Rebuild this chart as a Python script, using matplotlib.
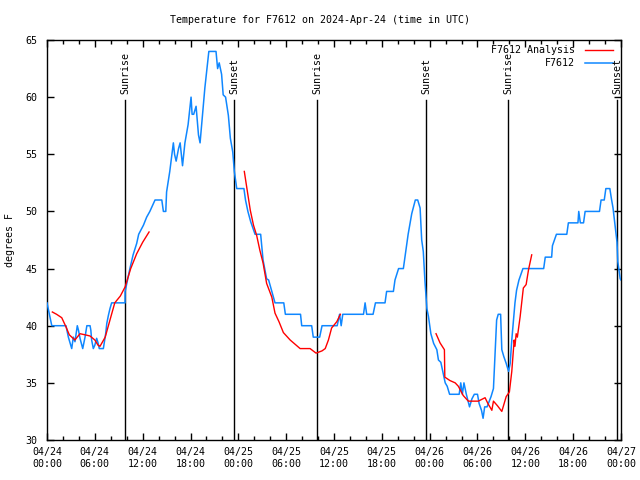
"""Station temperature vs analysis, gnuplot-style, hours from 2024-04-24 00:00 UTC."""

import matplotlib
matplotlib.use("Agg")
import matplotlib.pyplot as plt
import numpy as np

# observed station temperature (hours since 04/24 00:00 UTC, deg F)
obs_hours = [
    0.0, 0.15, 0.6, 2.38, 2.5, 2.68, 2.89, 3.1, 3.3, 3.51, 3.8, 3.95, 4.14, 4.48,
    4.77, 5.0, 5.4, 5.5, 5.6, 5.81, 6.0, 6.23, 6.4, 6.56, 7.07, 7.36, 7.5, 7.7,
    7.9, 8.11, 9.79, 9.8, 10.1, 10.4, 10.8, 11.25, 11.5, 12.1, 12.5, 12.9, 13.55,
    14.4, 14.6, 14.9, 15.0, 15.4, 15.85, 16.0, 16.2, 16.5, 16.7, 17.0, 17.3, 17.7,
    18.07, 18.2, 18.4, 18.7, 19.0, 19.2, 19.4, 19.8, 20.25, 20.3, 21.2, 21.4,
    21.6, 21.9, 22.1, 22.4, 22.75, 23.0, 23.3, 23.5, 23.8, 24.7, 24.9, 25.2,
    25.55, 26.1, 26.8, 27.1, 27.55, 27.8, 28.2, 28.6, 29.7, 29.9, 31.8, 31.95,
    33.2, 33.4, 34.2, 34.5, 36.4, 36.7, 36.9, 37.1, 39.7, 39.9, 40.1, 40.9, 41.2,
    42.4, 42.6, 43.45, 43.65, 44.1, 44.7, 44.9, 45.3, 45.75, 46.2, 46.5, 46.8,
    47.0, 47.2, 47.4, 47.55, 47.65, 47.85, 48.15, 48.5, 48.9, 49.1, 49.4, 49.65,
    49.95, 50.2, 50.5, 51.7, 51.9, 52.1, 52.3, 52.6, 53.0, 53.3, 53.6, 54.0,
    54.2, 54.5, 54.7, 54.9, 55.2, 55.7, 56.0, 56.2, 56.4, 56.6, 56.9, 57.05,
    57.3, 57.6, 57.9, 58.1, 58.3, 58.5, 58.7, 58.9, 59.2, 59.7, 62.3, 62.5, 63.3,
    63.4, 63.9, 65.2, 65.4, 66.6, 66.7, 66.9, 67.3, 67.5, 69.3, 69.5, 69.9, 70.1,
    70.6, 70.8, 71.0, 71.3, 71.5, 71.6, 71.9, 72.0,
]
obs_temp = [
    42, 41.5, 40, 40, 39.6, 39, 38.5, 38, 39, 38.6, 40, 39.6, 38.9, 38,
    39, 40, 40, 39.6, 38.75, 38, 38.3, 38.9, 38.5, 38, 38, 39.3, 40.2, 40.9,
    41.5, 42, 42, 43, 44, 45, 46.2, 47.2, 48, 48.8, 49.5, 50, 51,
    51, 50, 50, 51.7, 53.5, 56, 55, 54.4, 55.5, 56, 54, 56, 57.6,
    60, 58.5, 58.5, 59.2, 56.7, 56, 57.6, 60.8, 63.7, 64, 64, 62.5,
    63, 62, 60.2, 60, 58.4, 56.4, 55.2, 53.5, 52, 52, 51, 50,
    49.1, 48, 48, 45.75, 44.1, 44, 43, 42, 42, 41, 41, 40,
    40, 39, 39, 40, 40, 41, 40, 41, 41, 42, 41, 41, 42,
    42, 43, 43, 44, 45, 45, 46, 48, 49.8, 51, 51, 50.3,
    47.5, 46.5, 44, 42.5, 41.5, 40.8, 39.3, 38.45, 37.9, 37, 36.8, 36,
    35, 34.7, 34, 34, 35, 34, 35, 34, 32.9, 33.6, 34, 34,
    33.2, 32.6, 31.9, 32.9, 32.9, 33.8, 34.5, 37.6, 40.5, 41, 41, 37.9,
    37.3, 36.7, 36, 36.7, 38.75, 40.35, 42, 43.1, 44, 45, 45, 46, 46,
    47, 48, 48, 49, 49, 50, 49, 49, 50, 50, 51, 51, 52,
    52, 51.1, 50.3, 48.5, 47.3, 45.6, 44.1, 44,
]

# analysis temperature, three separate runs (NaN splits them)
ana_hours = [
    0.67, 1.2, 1.85, 2.38, 2.8, 3.5, 4.14, 4.8, 5.4, 6.0, 6.4, 6.65, 7.3, 7.9,
    8.5, 9.2, 9.8, 10.5, 11.25, 12.0, 12.8, np.nan,
    24.75, 25.1, 25.5, 25.9, 26.3, 26.7, 27.1, 27.55, 28.2, 28.6, 29.1, 29.65,
    30.5, 31.75, 33.0, 33.75, 34.5, 34.9, 35.3, 35.7, 36.35, 36.8, np.nan,
    48.8, 49.3, 49.85, 49.9, 50.55, 51.2, 51.6, 52.2, 52.85, 54.1, 54.95, 55.3,
    55.8, 56.0, 56.5, 57.05, 57.6, 58.0, 58.3, 58.6, 58.7, 58.85, 59.0, 59.35,
    59.75, 60.1, 60.4, 60.8,
]
ana_temp = [
    41.2, 41.0, 40.7, 39.9, 39.2, 38.75, 39.3, 39.2, 39.1, 38.75, 38.3, 38.2, 39, 40.5,
    42, 42.6, 43.4, 45, 46.3, 47.3, 48.2, np.nan,
    53.5, 51.9, 50.1, 48.8, 47.9, 46.6, 45.5, 43.7, 42.5, 41.1, 40.35, 39.4,
    38.75, 38, 38, 37.6, 37.8, 38, 38.75, 39.8, 40.35, 41, np.nan,
    39.3, 38.5, 37.9, 35.5, 35.2, 35, 34.7, 33.9, 33.4, 33.4, 33.7, 33.2,
    32.6, 33.4, 33, 32.5, 33.8, 34.2, 36, 38.75, 38.2, 39.3, 39, 40.8,
    43.3, 43.6, 44.9, 46.2,
]

sun_hours = [9.79, 23.46, 33.88, 47.55, 57.84, 71.52]
sun_labels = ["Sunrise", "Sunset", "Sunrise", "Sunset", "Sunrise", "Sunset"]

tick_hours = list(range(0, 73, 6))
tick_labels = [
    "04/24\n00:00", "04/24\n06:00", "04/24\n12:00", "04/24\n18:00",
    "04/25\n00:00", "04/25\n06:00", "04/25\n12:00", "04/25\n18:00",
    "04/26\n00:00", "04/26\n06:00", "04/26\n12:00", "04/26\n18:00",
    "04/27\n00:00",
]

BLUE = "#0f87ff"
FONT = "DejaVu Sans Mono"
FS = 7.2

plt.rcParams["font.family"] = FONT
plt.rcParams["font.size"] = FS

fig = plt.figure(figsize=(6.4, 4.8), dpi=100)
ax = fig.add_axes([47 / 640, 40 / 480, 574 / 640, 400 / 480])

ax.plot(obs_hours, obs_temp, color=BLUE, lw=1.1, zorder=3)
ax.plot(ana_hours, ana_temp, color="red", lw=1.0, zorder=4)

for h, lab in zip(sun_hours, sun_labels):
    ax.plot([h, h], [30, 59.75], color="black", lw=1.0, zorder=2)
    ax.text(h, 60.3, lab, rotation=90, ha="center", va="bottom", fontsize=FS, clip_on=False)

ax.set_xlim(0, 72)
ax.set_ylim(30, 65)
ax.set_xticks(tick_hours)
ax.set_xticklabels(tick_labels)
ax.set_xticks(np.arange(0, 73, 2), minor=True)
ax.set_yticks(range(30, 66, 5))
ax.tick_params(which="both", direction="in", top=True, right=True, width=1, colors="black")
ax.tick_params(which="major", length=5)
ax.tick_params(which="minor", length=3)
ax.tick_params(axis="y", pad=7)
ax.tick_params(axis="x", pad=5)
for sp in ax.spines.values():
    sp.set_linewidth(1.0)

fig.text(10 / 640, 0.5, "degrees F", rotation=90, ha="center", va="center", fontsize=FS)
fig.text(0.5, 1 - 20 / 480, "Temperature for F7612 on 2024-Apr-24 (time in UTC)",
         ha="center", va="center", fontsize=FS)

# key, right-aligned like gnuplot
ax.text(0.92, 0.975, "F7612 Analysis", transform=ax.transAxes, ha="right", va="center", fontsize=FS)
ax.text(0.92, 0.9425, "F7612", transform=ax.transAxes, ha="right", va="center", fontsize=FS)
ax.plot([0.937, 0.986], [0.975, 0.975], color="red", lw=1.0, transform=ax.transAxes)
ax.plot([0.937, 0.986], [0.9425, 0.9425], color=BLUE, lw=1.1, transform=ax.transAxes)

fig.savefig("out.png", dpi=100)
